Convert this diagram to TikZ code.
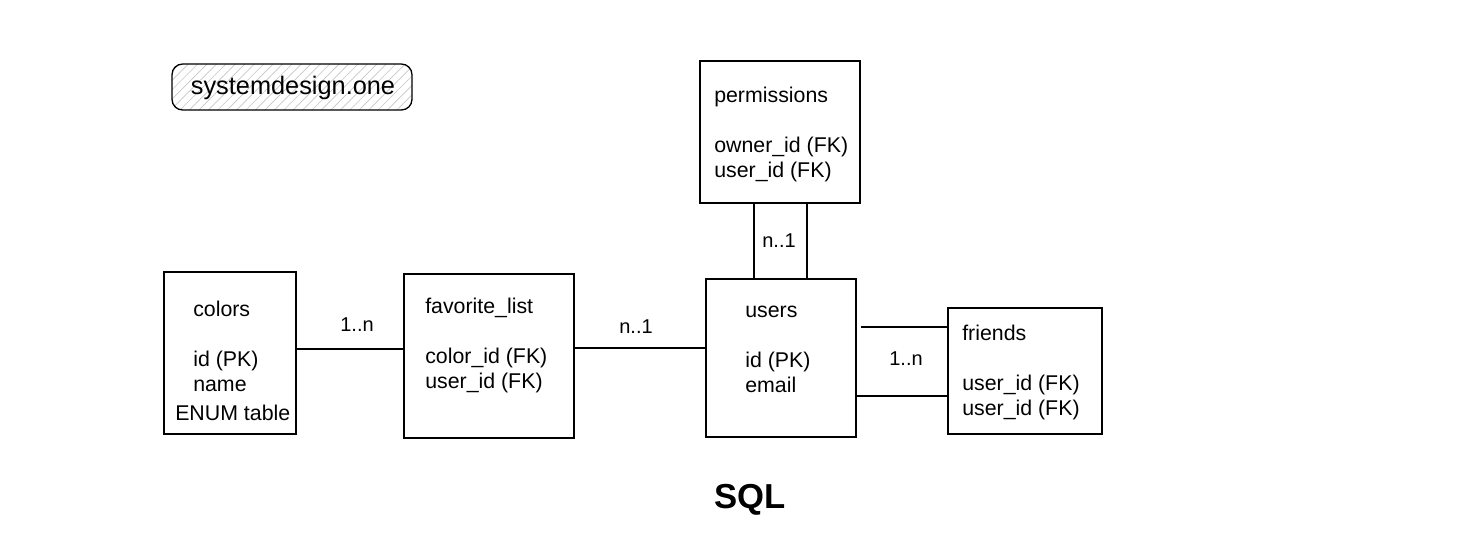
\documentclass[tikz,border=0pt]{standalone}
\usepackage{fontspec}
\setmainfont{Liberation Sans}
\usetikzlibrary{fit,patterns.meta}
\begin{document}
\begin{tikzpicture}[x=0.75pt,y=-0.75pt,
  tbl/.style={draw=black,line width=1pt,inner sep=0pt},
  txt/.style={anchor=base west,align=left,inner sep=0pt,font=\fontsize{16}{18.75}\selectfont},
  lbl/.style={anchor=center,inner sep=0pt,font=\fontsize{15}{18}\selectfont},
  conn/.style={draw=black,line width=1pt}]
\useasboundingbox (0,0) rectangle (1474,554);
% logo
\node[tbl,rounded corners=8pt,fill=white,pattern={Lines[angle=45,distance=5pt,line width=0.5pt]},pattern color=gray!45,
  fit={(172,64) (412,110)}] (logo) {};
\node[inner sep=0pt,font=\fontsize{19}{22}\selectfont] (logotext) at (293,88) {systemdesign.one};
% tables
\node[tbl,fit={(164,272) (296,434)}] (colors) {};
\node[tbl,fit={(404,274) (574,438)}] (fav) {};
\node[tbl,fit={(706,279) (856,437)}] (users) {};
\node[tbl,fit={(700,61) (860,203)}] (perm) {};
\node[tbl,fit={(948,308) (1102,434)}] (friends) {};
% texts (base anchor = baseline of the last line)
\node[txt] (colorstxt) at (193,391) {colors\\[18.75pt]id (PK)\\name};
\node[txt] (enumtxt) at (175,420) {ENUM table};
\node[txt] (favtxt) at (425,388) {favorite\_list\\[18.75pt]color\_id (FK)\\user\_id (FK)};
\node[txt] (userstxt) at (745,392) {users\\[18.75pt]id (PK)\\email};
\node[txt] (permtxt) at (714,177) {permissions\\[18.75pt]owner\_id (FK)\\user\_id (FK)};
\node[txt] (friendstxt) at (962,415) {friends\\[18.75pt]user\_id (FK)\\user\_id (FK)};
% connectors
\coordinate (ya) at (0,349);
\coordinate (yb) at (0,348);
\coordinate (xa) at (754,0);
\coordinate (xb) at (807,0);
\coordinate (yc) at (0,327);
\coordinate (yd) at (0,396);
\draw[conn] (colors.east |- ya) -- (fav.west |- ya);
\draw[conn] (fav.east |- yb) -- (users.west |- yb);
\draw[conn] (perm.south -| xa) -- (users.north -| xa);
\draw[conn] (perm.south -| xb) -- (users.north -| xb);
\draw[conn] ([xshift=3pt]users.east |- yc) -- (friends.west |- yc);
\draw[conn] (users.east |- yd) -- (friends.west |- yd);
% labels
\node[lbl] (l1) at (357,325) {1..n};
\node[lbl] (l2) at (636,327) {n..1};
\node[lbl] (l3) at (779,241) {n..1};
\node[lbl] (l4) at (906,359) {1..n};
% title
\node[inner sep=0pt,font=\fontsize{26}{30}\selectfont\bfseries] (sql) at (750,500) {SQL};
\end{tikzpicture}
\end{document}
